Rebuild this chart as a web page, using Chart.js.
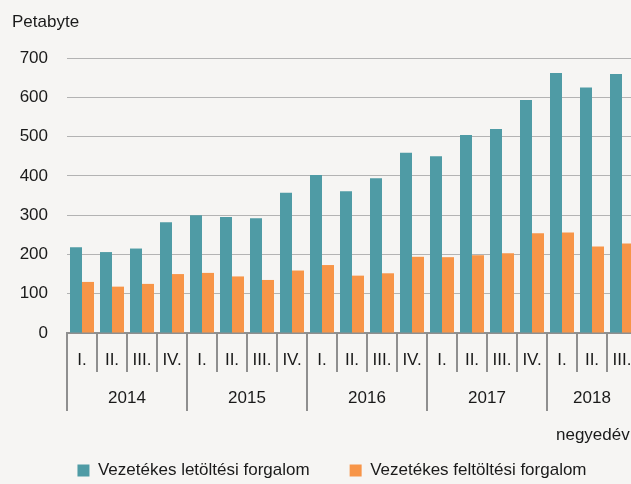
<!DOCTYPE html>
<html>
<head>
<meta charset="utf-8">
<script src="https://cdn.jsdelivr.net/npm/chart.js@4/dist/chart.umd.min.js"></script>
<style>
  html, body { margin: 0; padding: 0; background: #f6f5f3; overflow: hidden; }
  #wrap { width: 664px; height: 484px; }
</style>
</head>
<body>
<div id="wrap"><canvas id="chart" width="664" height="484"></canvas></div>
<script>
// --- Data ---
const quarters = ['I.', 'II.', 'III.', 'IV.', 'I.', 'II.', 'III.', 'IV.', 'I.', 'II.', 'III.', 'IV.',
                  'I.', 'II.', 'III.', 'IV.', 'I.', 'II.', 'III.'];
const years = ['2014', '2015', '2016', '2017', '2018'];
const quartersPerYear = [4, 4, 4, 4, 3];
const download = [218, 206, 215, 282, 300, 295, 292, 357, 402, 361, 394, 459, 450, 504, 519, 593, 662, 625, 659];
const upload   = [130, 118, 125, 150, 153, 144, 135, 159, 173, 146, 152, 194, 193, 198, 203, 254, 256, 220, 228];
const yTicks = [0, 100, 200, 300, 400, 500, 600, 700];

const FONT = '"Liberation Sans", Arial, sans-serif';
const TEXT = '#1a1a1a';
const AXIS = '#8f8f8f';

// year labels, long separators, unit texts
const axisExtras = {
  id: 'axisExtras',
  afterDraw(chart) {
    const { ctx, chartArea } = chart;
    const x = chart.scales.x;
    const step = x.getPixelForValue(1) - x.getPixelForValue(0);
    ctx.save();
    ctx.strokeStyle = AXIS;
    ctx.lineWidth = 2;
    ctx.fillStyle = TEXT;
    ctx.font = '17px ' + FONT;
    ctx.textAlign = 'center';
    ctx.textBaseline = 'middle';
    let start = 0;
    years.forEach((yr, i) => {
      const end = start + quartersPerYear[i];
      const x0 = Math.round(x.getPixelForValue(start) - step / 2);
      const x1 = Math.round(x.getPixelForValue(end - 1) + step / 2);
      ctx.beginPath();
      ctx.moveTo(x0, chartArea.bottom);
      ctx.lineTo(x0, chartArea.bottom + 78);
      if (i === years.length - 1) {
        ctx.moveTo(x1, chartArea.bottom);
        ctx.lineTo(x1, chartArea.bottom + 78);
      }
      ctx.stroke();
      ctx.fillText(yr, (x0 + x1) / 2, 398);
      start = end;
    });
    ctx.textAlign = 'left';
    ctx.fillText('Petabyte', 12, 22);
    ctx.fillText('negyedév', 556, 435);
    ctx.restore();
  }
};

new Chart(document.getElementById('chart'), {
  type: 'bar',
  data: {
    labels: quarters,
    datasets: [
      {
        label: 'Vezetékes letöltési forgalom',
        data: download,
        backgroundColor: '#4f9ba5',
        categoryPercentage: 0.8,
        barPercentage: 1.0,
      },
      {
        label: 'Vezetékes feltöltési forgalom',
        data: upload,
        backgroundColor: '#f79548',
        categoryPercentage: 0.8,
        barPercentage: 1.0,
      },
    ]
  },
  options: {
    responsive: false,
    animation: false,
    devicePixelRatio: 1,
    layout: { padding: { top: 58, left: 0, right: 0, bottom: -5 } },
    plugins: {
      tooltip: { enabled: false },
      legend: {
        position: 'bottom',
        labels: {
          color: TEXT,
          font: { family: FONT, size: 17 },
          boxWidth: 12,
          boxHeight: 12,
          padding: 40,
        }
      }
    },
    scales: {
      x: {
        grid: {
          display: true,
          drawOnChartArea: false,
          offset: true,
          tickLength: 39,
          color: AXIS,
          lineWidth: 2,
        },
        border: { display: true, color: AXIS, width: 2 },
        ticks: {
          color: TEXT,
          font: { family: FONT, size: 17 },
          padding: -22,
          autoSkip: false,
          maxRotation: 0,
        },
        afterFit: s => { s.height = 89; }
      },
      y: {
        min: 0,
        max: 700,
        afterBuildTicks: s => { s.ticks = yTicks.map(v => ({ value: v })); },
        grid: { color: '#b3b3b3', lineWidth: 1, drawTicks: false },
        border: { display: false },
        ticks: {
          color: TEXT,
          font: { family: FONT, size: 17 },
          padding: 19,
        },
        afterFit: s => { s.width = 67; }
      },
      // empty right-hand strip (the original chart continues past the crop)
      yRight: {
        position: 'right',
        grid: { display: false, drawTicks: false },
        border: { display: false },
        ticks: { display: false },
        afterFit: s => { s.width = 27; }
      }
    }
  },
  plugins: [axisExtras]
});
</script>
</body>
</html>
